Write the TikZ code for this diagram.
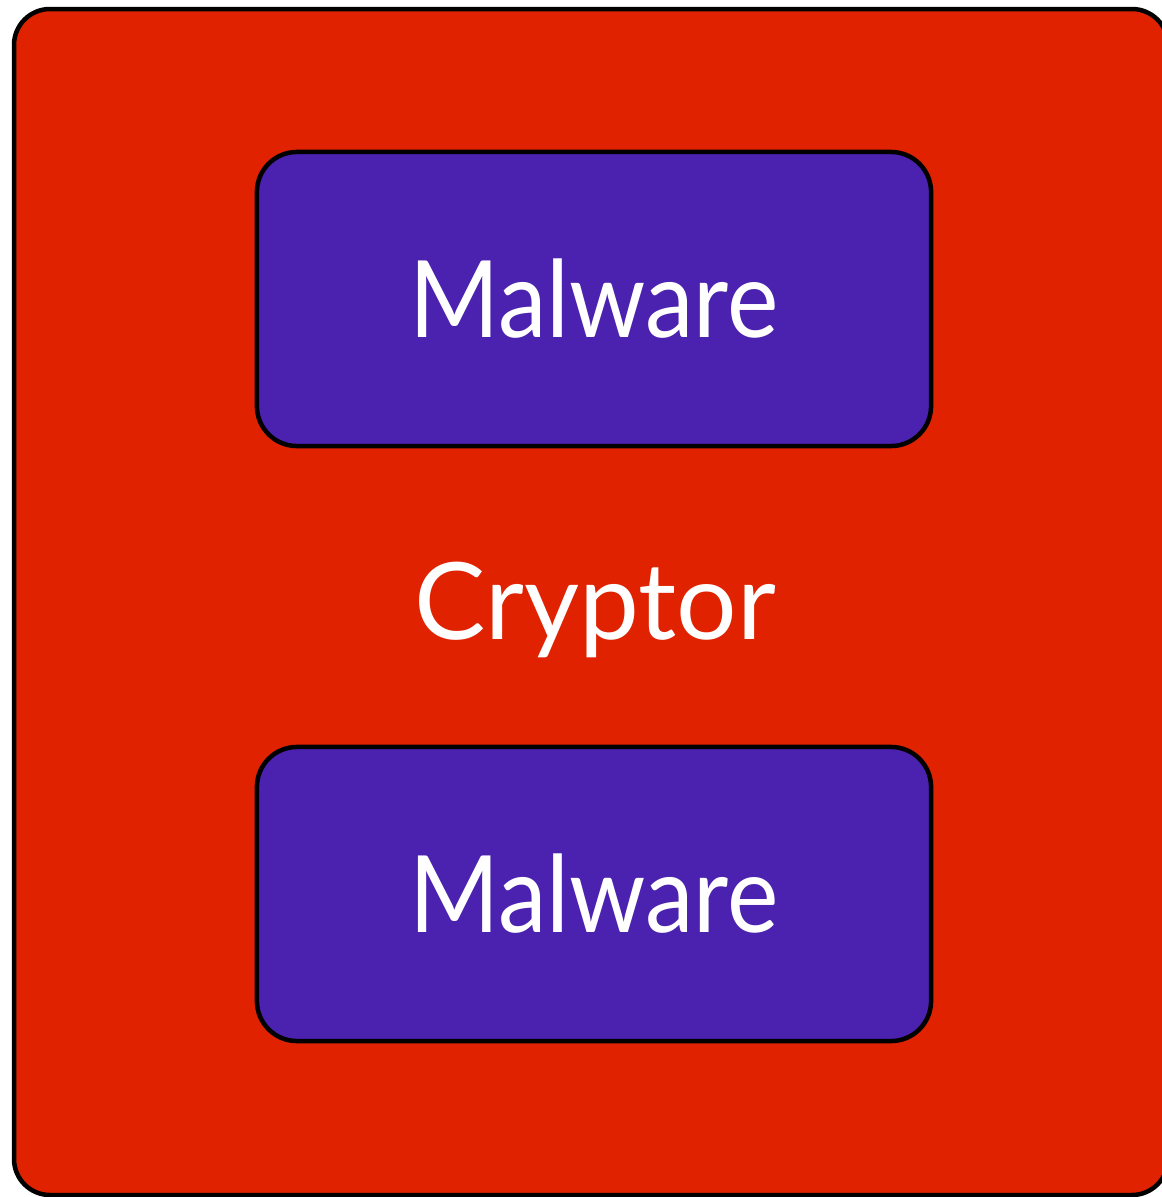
\documentclass[tikz,border=0pt]{standalone}
\usepackage{fontspec}
\setmainfont{Lato}
\definecolor{cryptred}{RGB}{224,34,0}
\definecolor{malpurple}{RGB}{75,33,175}
\newcommand{\narrowtext}[1]{\scalebox{0.91}[1]{#1}}
\tikzset{
  malbox/.style={draw=black, line width=3.2pt, fill=malpurple, rounded corners=1cm,
    minimum width=16.85cm, minimum height=7.35cm, text=white, font=\fontsize{76}{80}\selectfont},
  bigtext/.style={text=white, font=\fontsize{76}{80}\selectfont}
}
\begin{document}
\begin{tikzpicture}[x=0.025cm,y=-0.025cm]
                    \useasboundingbox (0,0) rectangle (1162,1197);
                    \clip (0,0) rectangle (1162,1197);
                    \draw[line width=3.2pt, fill=cryptred, rounded corners=0.9cm] (14,9) rectangle (1168,1195);
                    \node[malbox] (top) at (594,299) {\narrowtext{Malware}};
                    \node[malbox] (bottom) at (594,894) {\narrowtext{Malware}};
                    \node[bigtext] (cryptor) at (595,610) {Cryptor};
                \end{tikzpicture}
\end{document}
